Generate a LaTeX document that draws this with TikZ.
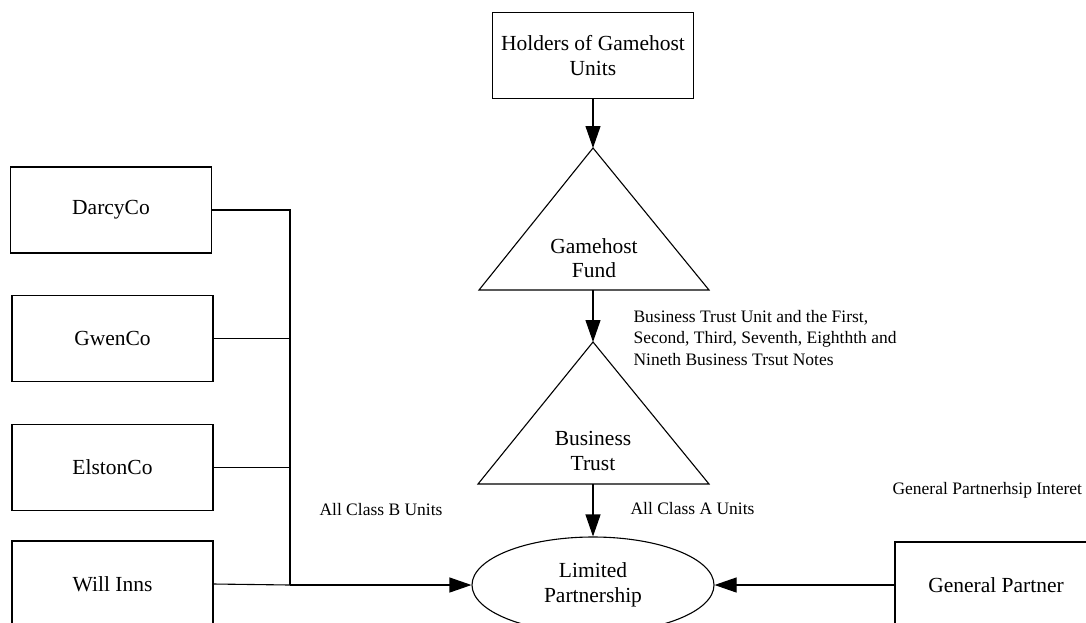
\documentclass[tikz,border=0pt]{standalone}
\usepackage{fontspec}
\setmainfont{Liberation Serif}
\usetikzlibrary{arrows.meta,shapes.geometric}
\begin{document}
\begin{tikzpicture}[x=1pt,y=-1pt,line width=1.1pt,
  mainfont/.style={font=\fontsize{21.5}{24.5}\selectfont,align=center},
  box/.style={draw,rectangle,minimum width=201pt,minimum height=86pt,inner sep=0pt,mainfont},
  lbl/.style={font=\fontsize{17.5}{21.5}\selectfont,inner sep=0pt,align=left},
  arr/.style={-{Triangle[length=22pt,width=15pt]}},
  tri/.style={draw,line join=miter}]
\useasboundingbox (0,0) rectangle (1086,622);
\clip (0,0) rectangle (1086,622);
% boxes
\node[box] (holders) at (593,55.5) {Holders of Gamehost\\Units};
\node[box] (darcy) at (111,210) {DarcyCo};
\node[box] (gwen) at (112.5,338.5) {GwenCo};
\node[box] (elston) at (112.5,467.5) {ElstonCo};
\node[box] (will) at (112.5,584) {Will Inns};
\node[box,minimum width=202pt] (gp) at (996,585) {General Partner};
% triangles
\draw[tri] (593,148) coordinate (gfapex) -- (709,290) -- (479,290) -- cycle;
\coordinate (gfbase) at (593,290);
\node[mainfont,inner sep=0pt] (gf) at (594,258) {Gamehost\\Fund};
\draw[tri] (593,342) coordinate (btapex) -- (709,484) -- (478,484) -- cycle;
\coordinate (btbase) at (593,484);
\node[mainfont,inner sep=0pt] (bt) at (593,451) {Business\\Trust};
% ellipse
\node[draw,ellipse,minimum width=242pt,minimum height=96pt,inner sep=0pt,mainfont] (lp) at (593,585) {Limited\\Partnership};
% arrows
\draw[arr] (holders.south) -- (gfapex);
\draw[arr] (gfbase) -- (btapex);
\draw[arr] (btbase) -- (lp.north);
\draw[arr] (gp.west) -- (lp.east);
\coordinate (jtop) at (290,210);
\coordinate (jb) at (290,585);
\draw (darcy.east) -- (jtop) -- (jb);
\draw (gwen.east) -- (gwen.east -| jb);
\draw (elston.east) -- (elston.east -| jb);
\draw (will.east) -- (jb);
\draw[arr] (jb) -- (lp.west);
% labels
\node[lbl,anchor=west] (lblbtu) at (633,338) {Business Trust Unit and the First,\\Second, Third, Seventh, Eighthth and\\Nineth Business Trsut Notes};
\node[lbl] (lblb) at (381,510) {All Class B Units};
\node[lbl,anchor=west] (lbla) at (630,509) {All Class A Units};
\node[lbl,anchor=west] (lblgp) at (892,490) {General Partnerhsip Interet};
\end{tikzpicture}
\end{document}
